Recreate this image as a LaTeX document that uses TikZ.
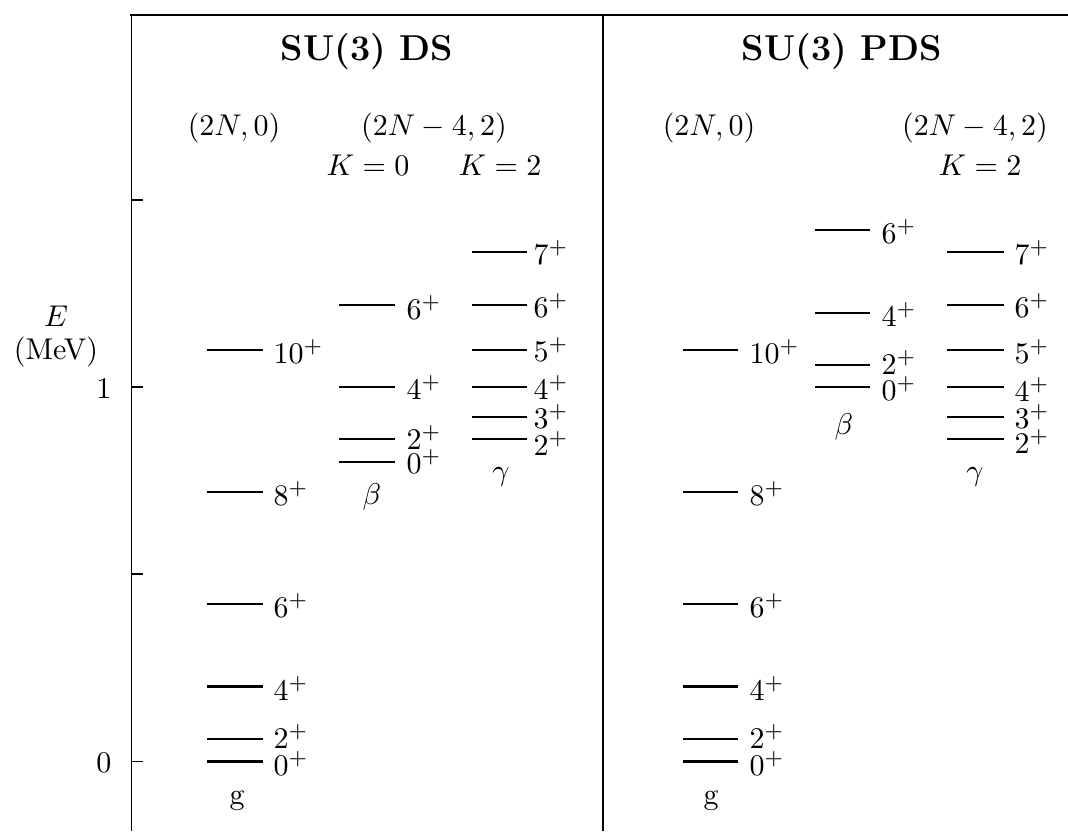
\documentclass[tikz,border=0pt]{standalone}
\tikzset{
  frame/.style={line width=0.6pt},
  axtick/.style={line width=0.55pt},
  level/.style={line width=0.8pt},
  lab/.style={inner sep=0pt, font=\fontsize{10}{12}\selectfont},
  ttl/.style={inner sep=0pt, font=\fontsize{12}{14.4}\selectfont\bfseries},
}
\newcommand\lgap{10}
% #1 name, #2 x start, #3 x end, #4 y, #5 spin, #6 extra baseline shift
\newcommand\lv[6]{%
  \coordinate (#1a) at (#2,#4);
  \coordinate (#1b) at (#3,#4);
  \draw[level] (#1a) -- (#1b);
  \node[lab,anchor=base west] (#1) at ({#3+\lgap},{#4+13+(#6)}) {$#5^{+}$};
}
\begin{document}
\begin{tikzpicture}[x=0.33333pt,y=-0.33333pt]
\useasboundingbox[fill=white] (0,0) rectangle (1068,831);
% frame
\coordinate (ftl) at (130,15);
\coordinate (ftr) at (1068,15);
\coordinate (axt) at (131.5,15);
\coordinate (axb) at (131.5,831);
\coordinate (mdt) at (603,15);
\coordinate (mdb) at (603,831);
\draw[frame] (ftl) -- (ftr);
\draw[frame] (axt) -- (axb);
\draw[frame] (mdt) -- (mdb);
% axis ticks
\foreach \yy/\nm in {200/a, 387/b, 574/c, 761.5/d}{
  \coordinate (tk\nm l) at (131.5,\yy);
  \coordinate (tk\nm r) at (143,\yy);
  \draw[axtick] (tk\nm l) -- (tk\nm r);
}
\node[lab,anchor=base east] (one) at (112,398) {1};
\node[lab,anchor=base east] (zero) at (112,772) {0};
\node[lab,anchor=base] (Elab) at (56,326) {$E$};
\node[lab,anchor=base] (MeV) at (56,359) {(MeV)};
% titles and headers
\node[ttl,anchor=base] (t1) at (367,61) {SU(3) DS};
\node[ttl,anchor=base] (t2) at (842,61) {SU(3) PDS};
\node[lab,anchor=base] (h1) at (234,135) {$(2N,0)$};
\node[lab,anchor=base] (h2) at (434,135) {$(2N-4,2)$};
\node[lab,anchor=base] (k0) at (368,175) {$K=0$};
\node[lab,anchor=base] (k2) at (500,175) {$K=2$};
\node[lab,anchor=base] (h3) at (709,135) {$(2N,0)$};
\node[lab,anchor=base] (h4) at (975,135) {$(2N-4,2)$};
\node[lab,anchor=base] (k2p) at (980,175) {$K=2$};
% ---- DS ground band
\renewcommand\lgap{10}
\lv{ga0}{207}{263}{761.5}{0}{1}
\lv{ga2}{207}{263}{739}{2}{-4}
\lv{ga4}{207}{263}{686.5}{4}{0.5}
\lv{ga6}{207}{263}{604}{6}{0}
\lv{ga8}{207}{263}{492}{8}{0}
\lv{ga10}{207}{263}{350}{10}{0.5}
\node[lab,anchor=base] (gDS) at (237,804) {g};
% ---- DS beta band
\renewcommand\lgap{11}
\lv{ba0}{339}{395}{462}{0}{-2}
\lv{ba2}{339}{395}{439}{2}{-3}
\lv{ba4}{339}{395}{387}{4}{-0.5}
\lv{ba6}{339}{395}{305}{6}{1.5}
\node[lab,anchor=base] (bDS) at (372,504) {$\beta$};
% ---- DS gamma band
\renewcommand\lgap{6}
\lv{ca2}{472}{527}{439}{2}{3}
\lv{ca3}{472}{527}{417}{3}{-2}
\lv{ca4}{472}{527}{387}{4}{-0.5}
\lv{ca5}{472}{527}{350}{5}{-1.5}
\lv{ca6}{472}{527}{305}{6}{-0.5}
\lv{ca7}{472}{527}{252}{7}{-1}
\node[lab,anchor=base] (cDS) at (501,480) {$\gamma$};
% ---- PDS ground band
\renewcommand\lgap{11}
\lv{gb0}{683}{738}{761.5}{0}{1}
\lv{gb2}{683}{738}{739}{2}{-4}
\lv{gb4}{683}{738}{686.5}{4}{0.5}
\lv{gb6}{683}{738}{604}{6}{0}
\lv{gb8}{683}{738}{492}{8}{0}
\lv{gb10}{683}{738}{350}{10}{0.5}
\node[lab,anchor=base] (gPDS) at (711,804) {g};
% ---- PDS beta band
\renewcommand\lgap{11}
\lv{bb0}{815}{870}{387}{0}{0.5}
\lv{bb2}{815}{870}{365}{2}{-3.5}
\lv{bb4}{815}{870}{313}{4}{0.5}
\lv{bb6}{815}{870}{230}{6}{0.5}
\node[lab,anchor=base] (bPDS) at (844,434) {$\beta$};
% ---- PDS gamma band
\renewcommand\lgap{10}
\lv{cb2}{947}{1004}{439}{2}{1.5}
\lv{cb3}{947}{1004}{417}{3}{-2}
\lv{cb4}{947}{1004}{387}{4}{1.5}
\lv{cb5}{947}{1004}{350}{5}{0}
\lv{cb6}{947}{1004}{305}{6}{-0.5}
\lv{cb7}{947}{1004}{252}{7}{-0.5}
\node[lab,anchor=base] (cPDS) at (975,480) {$\gamma$};
\end{tikzpicture}
\end{document}
